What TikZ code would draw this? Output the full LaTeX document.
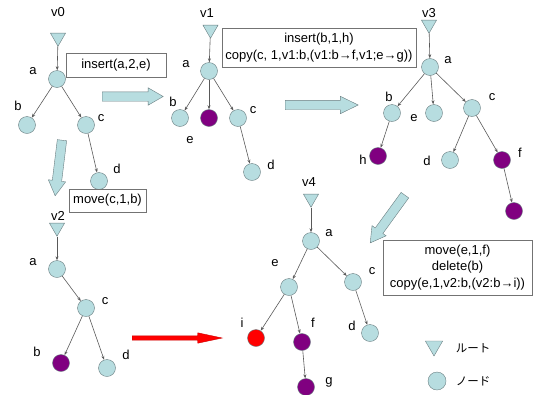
\documentclass[tikz,border=0pt]{standalone}
\usepackage{fontspec}
\setmainfont{Liberation Sans}
\newfontfamily\jpfont{Noto Sans CJK JP}
\usetikzlibrary{shapes.geometric,shapes.arrows,arrows.meta}
\definecolor{nodeblue}{RGB}{183,221,224}
\definecolor{nodeline}{RGB}{105,125,128}
\definecolor{plum}{RGB}{128,0,128}
\tikzset{
  vert/.style={circle,draw=nodeline,fill=nodeblue,minimum size=17pt,inner sep=0pt},
  pvert/.style={vert,fill=plum},
  rvert/.style={vert,fill=red},
  root/.style={regular polygon,regular polygon sides=3,shape border rotate=180,
    draw=nodeline,fill=nodeblue,minimum size=17.5pt,inner sep=0pt},
  edge/.style={draw=black!65,line width=0.6pt,-{Stealth[length=4pt,width=3pt]}},
  opbox/.style={draw=black!55,fill=white,align=center,inner sep=0pt},
  bigarrow/.style={single arrow,draw=nodeline,fill=nodeblue,anchor=tail,
    inner sep=0pt,inner ysep=4.5pt,single arrow head extend=4pt,single arrow tip angle=60}
}
\begin{document}
\begin{tikzpicture}[x=1pt,y=-1pt,font=\fontsize{13}{16.5}\selectfont]
\useasboundingbox (0,0) rectangle (534,394);

% v0
\node (v0) at (58,12) {v0};
\node[root] (r0) at (58,37.5) {};
\node[vert] (a0) at (57,79) {};
\node[vert] (b0) at (27,125) {};
\node[vert] (c0) at (86,125) {};
\node[vert] (d0) at (99,181) {};
\node (la0) at (33,71) {a};
\node (lb0) at (18,106) {b};
\node (lc0) at (101,118) {c};
\node (ld0) at (117,169) {d};
\draw[edge] (r0) -- (a0);
\draw[edge] (a0) -- (b0);
\draw[edge] (a0) -- (c0);
\draw[edge] (c0) -- (d0);
\node[opbox,minimum width=100pt,minimum height=24pt] (op1) at (116,65) {insert(a,2,e)};

% v1
\node (v1) at (207,13) {v1};
\node[root] (r1) at (210.5,29.5) {};
\node[vert] (a1) at (209,71) {};
\node[vert] (b1) at (180,118) {};
\node[pvert] (h1) at (209,118) {};
\node[vert] (c1) at (238,118) {};
\node[vert] (d1) at (252,172) {};
\node (la1) at (186,64) {a};
\node (lb1) at (173,102) {b};
\node (lc1) at (253,110) {c};
\node (le1) at (190,140) {e};
\node (ld1) at (271,165) {d};
\draw[edge] (r1) -- (a1);
\draw[edge] (a1) -- (b1);
\draw[edge] (a1) -- (h1);
\draw[edge] (a1) -- (c1);
\draw[edge] (c1) -- (d1);
\node[opbox,minimum width=194pt,minimum height=39pt] (op2) at (319,47.5)
  {insert(b,1,h)\\copy(c,\ 1,v1:b,(v1:b→f,v1;e→g))};

% v3
\node (v3) at (429,13) {v3};
\node[root] (r3) at (429,24.5) {};
\node[vert] (a3) at (430,67) {};
\node[vert] (b3) at (392,113) {};
\node[vert] (e3) at (434,113) {};
\node[vert] (c3) at (472,108) {};
\node[pvert] (h3) at (378,156) {};
\node[vert] (d3) at (450,160) {};
\node[pvert] (f3) at (502,160) {};
\node[pvert] (g3) at (514,211) {};
\node (la3) at (448,60) {a};
\node (lb3) at (389,97) {b};
\node (le3) at (414,118) {e};
\node (lc3) at (492,97) {c};
\node (lh3) at (363,160) {h};
\node (ld3) at (427,161) {d};
\node (lf3) at (520,153) {f};
\draw[edge] (r3) -- (a3);
\draw[edge] (a3) -- (b3);
\draw[edge] (a3) -- (e3);
\draw[edge] (a3) -- (c3);
\draw[edge] (b3) -- (h3);
\draw[edge] (c3) -- (d3);
\draw[edge] (c3) -- (f3);
\draw[edge] (f3) -- (g3);

% v2
\node (v2) at (58,216) {v2};
\node[root] (r2) at (57,227.5) {};
\node[vert] (a2) at (57,269) {};
\node[vert] (c2) at (86,308) {};
\node[pvert] (b2) at (61,363) {};
\node[vert] (d2) at (107,368) {};
\node (la2) at (33,262) {a};
\node (lc2) at (105,301) {c};
\node (lb2) at (37,352) {b};
\node (ld2) at (126,355) {d};
\draw[edge] (r2) -- (a2);
\draw[edge] (a2) -- (c2);
\draw[edge] (c2) -- (b2);
\draw[edge] (c2) -- (d2);
\node[opbox,minimum width=77pt,minimum height=23pt] (op3) at (107.5,200.5) {move(c,1,b)};

% v4
\node (v4) at (309,182) {v4};
\node[root] (r4) at (311,198.5) {};
\node[vert] (a4) at (311,241) {};
\node[vert] (e4) at (289,287) {};
\node[vert] (c4) at (353,282) {};
\node[rvert] (i4) at (256,338) {};
\node[pvert] (f4) at (302,342) {};
\node[vert] (d4) at (370,333) {};
\node[pvert] (g4) at (306,387) {};
\node (la4) at (329,233) {a};
\node (le4) at (275,263) {e};
\node (lc4) at (372,271) {c};
\node (li4) at (242,323) {i};
\node (lf4) at (313,323) {f};
\node (ld4) at (352,326) {d};
\node (lg4) at (329,382) {g};
\draw[edge] (r4) -- (a4);
\draw[edge] (a4) -- (e4);
\draw[edge] (a4) -- (c4);
\draw[edge] (e4) -- (i4);
\draw[edge] (e4) -- (f4);
\draw[edge] (f4) -- (g4);
\draw[edge] (c4) -- (d4);
\node[opbox,minimum width=149pt,minimum height=55pt] (op4) at (457.5,267.5)
  {move(e,1,f)\\delete(b)\\copy(e,1,v2:b,(v2:b→i))};

% big arrows
\node[bigarrow,minimum height=61pt] (ar1) at (102,96.5) {};
\node[bigarrow,minimum height=73pt,single arrow tip angle=52] (ar2) at (285,105) {};
\node[bigarrow,minimum height=56pt,rotate=263] (ar3) at (62,140) {};
\node[bigarrow,minimum height=59pt,rotate=234] (ar4) at (405,195) {};
\node[bigarrow,fill=red,draw=red!80!black,minimum height=90pt,inner ysep=2pt,
  single arrow head extend=3pt,single arrow tip angle=24] (ar5) at (132,338) {};

% legend
\node[root,minimum size=20pt] (kr) at (434,346) {};
\node[vert,minimum size=18pt] (kn) at (437,381) {};
\node[font=\jpfont\fontsize{11.5}{14}\selectfont] (kt1) at (473,348) {ルート};
\node[font=\jpfont\fontsize{11.5}{14}\selectfont] (kt2) at (473,381) {ノード};
\end{tikzpicture}
\end{document}
